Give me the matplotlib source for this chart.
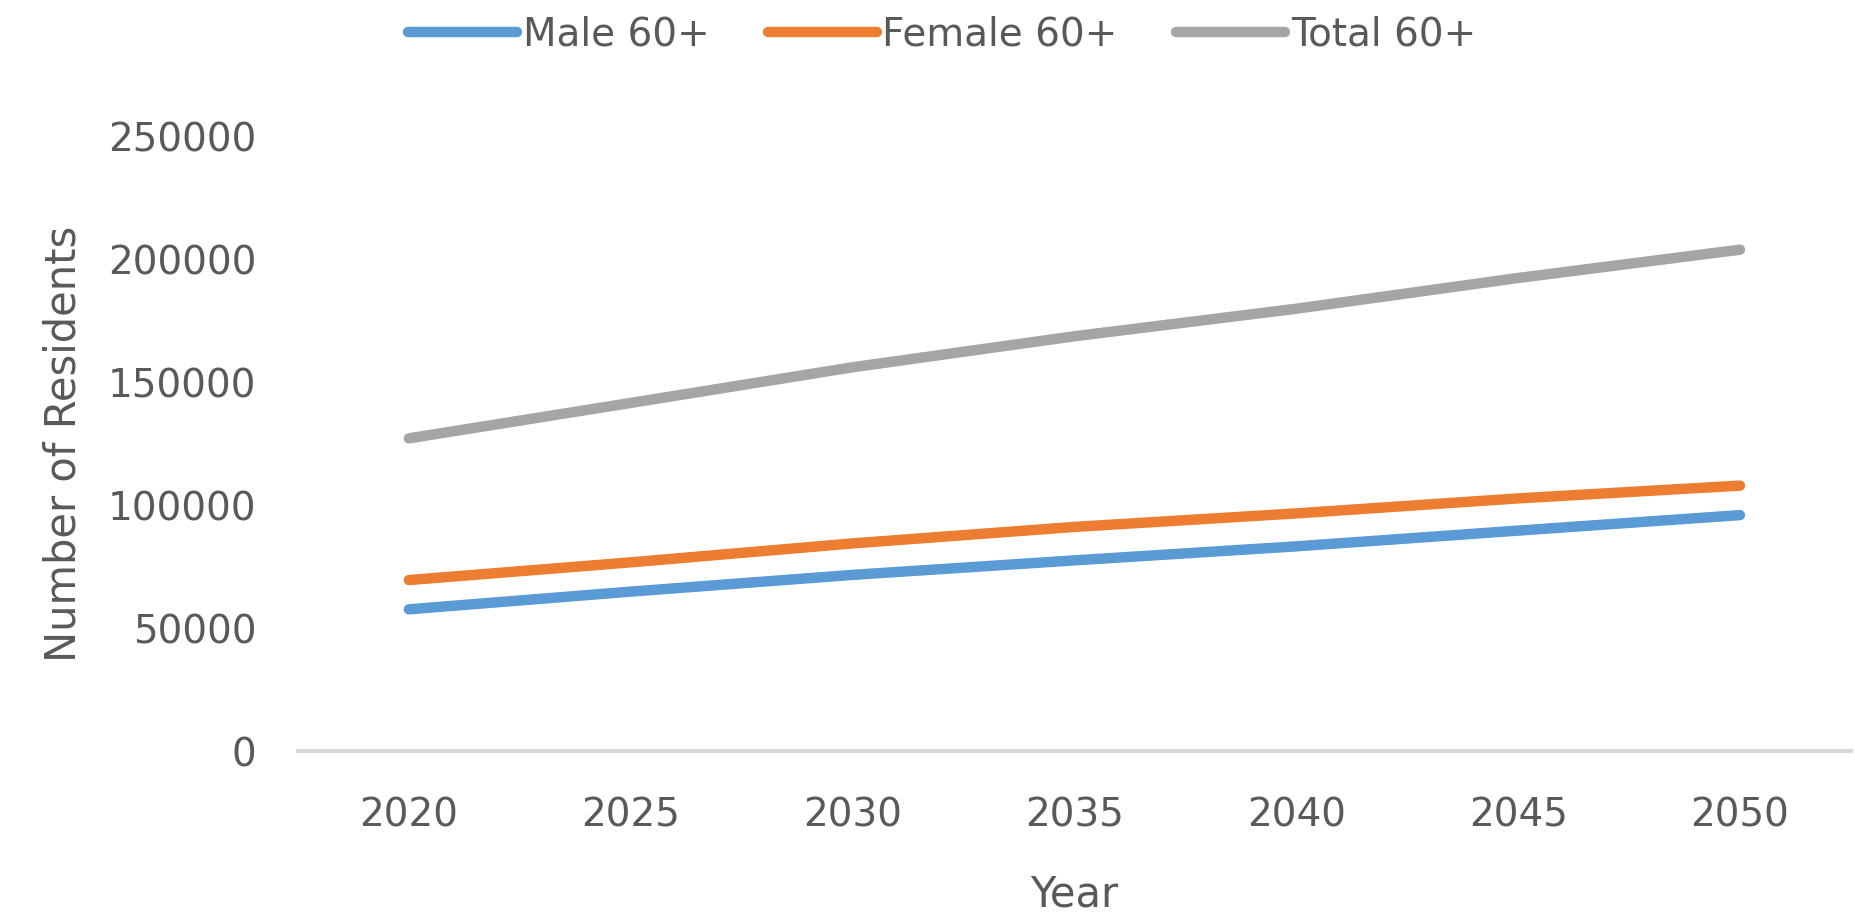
import matplotlib
matplotlib.use("Agg")
import matplotlib.pyplot as plt

# Datos
years = ["2020", "2025", "2030", "2035", "2040", "2045", "2050"]
male_60 = [57600, 64800, 71600, 77500, 83200, 89600, 95900]
female_60 = [69500, 76700, 84400, 91100, 96600, 102700, 107900]
total_60 = [127100, 141500, 156000, 168600, 179800, 192300, 203800]
y_ticks = [0, 50000, 100000, 150000, 200000, 250000]

plt.rcParams['font.family'] = ['DejaVu Sans']
text_color = "#595959"

fig = plt.figure(figsize=(18.55, 9.16), dpi=100)
ax = fig.add_axes([0.1606, 0.1801, 0.8372, 0.6714])

x = range(len(years))
ax.plot(x, male_60, color="#5B9BD5", lw=7.5, solid_capstyle='round', label="Male 60+")
ax.plot(x, female_60, color="#ED7D31", lw=7.5, solid_capstyle='round', label="Female 60+")
ax.plot(x, total_60, color="#A5A5A5", lw=7.5, solid_capstyle='round', label="Total 60+")

# Ejes
ax.set_xlim(-0.5, len(years) - 0.5)
ax.set_ylim(0, 250000)
ax.set_xticks(list(x))
ax.set_xticklabels(years)
ax.set_yticks(y_ticks)
ax.set_yticklabels([str(v) for v in y_ticks])
ax.tick_params(axis='both', length=0, labelsize=28, colors=text_color)
ax.tick_params(axis='y', pad=30)
ax.tick_params(axis='x', pad=33)

for s in ['top', 'right', 'left']:
    ax.spines[s].set_visible(False)
ax.spines['bottom'].set_color("#D9D9D9")
ax.spines['bottom'].set_linewidth(3)

ax.set_xlabel("Year", fontsize=30, color=text_color, labelpad=28)
ax.set_ylabel("Number of Residents", fontsize=30, color=text_color, labelpad=17)

fig.legend(loc='center', bbox_to_anchor=(942 / 1855, 1 - 35 / 916), ncol=3,
           frameon=False, fontsize=28, handlelength=2.8, handletextpad=0.15,
           columnspacing=1.5, labelcolor=text_color)

fig.savefig("out.png", dpi=100)
